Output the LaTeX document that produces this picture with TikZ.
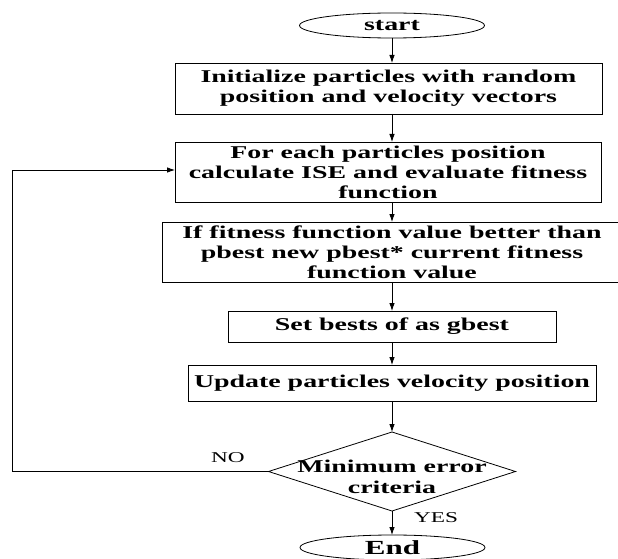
\documentclass[tikz,border=0pt]{standalone}
\usepackage{fontspec}
\setmainfont{Liberation Serif}
\newfontfamily\widefont[FakeStretch=1.55]{Liberation Serif}
\newfontfamily\lblfont[FakeStretch=1.55]{Liberation Serif}
\usetikzlibrary{shapes.geometric,arrows.meta}
\tikzset{
  x=1pt, y=-1pt,
  box/.style={draw, rectangle, line width=0.8pt, inner sep=0pt, outer sep=0pt, align=center,
    font=\widefont\bfseries\fontsize{18}{20}\selectfont},
  term/.style={draw, ellipse, line width=0.8pt, inner sep=0pt, outer sep=0pt,
    minimum width=185pt, minimum height=25pt, font=\widefont\bfseries\fontsize{18}{20}\selectfont},
  dia/.style={draw, diamond, line width=0.8pt, inner sep=0pt, outer sep=0pt,
    minimum width=247pt, minimum height=79pt},
  dtext/.style={align=center, inner sep=0pt, font=\widefont\bfseries\fontsize{18}{21}\selectfont},
  lbl/.style={inner sep=0pt, font=\lblfont\fontsize{15}{17}\selectfont},
  arr/.style={line width=0.8pt, -{Latex[length=8pt,width=5.5pt]}},
}
\begin{document}
\begin{tikzpicture}
\clip (0,0) rectangle (618,559);
\node[term] (start) at (392,25.5) {start};
\node[box, minimum width=427pt, minimum height=51pt] (b1) at (388.5,88.5)
  {Initialize particles with random\\position and velocity vectors};
\node[box, minimum width=426pt, minimum height=60pt] (b2) at (388,172)
  {For each particles position\\calculate ISE and evaluate fitness\\function};
\node[box, minimum width=460pt, minimum height=60pt] (b3) at (392,252)
  {If fitness function value better than\\pbest new pbest* current fitness\\function value};
\node[box, minimum width=328pt, minimum height=31pt] (b4) at (392,326.5)
  {Set bests of as gbest};
\node[box, minimum width=408pt, minimum height=36pt] (b5) at (392,383)
  {Update particles velocity position};
\node[dia] (d) at (392,471.5) {};
\node[dtext] (dt) at (392,477) {Minimum error\\criteria};
\node[term, font=\lblfont\bfseries\fontsize{20}{22}\selectfont] (end) at (392.5,547.5) {End};
\node[lbl] (no) at (228,458) {NO};
\node[lbl] (yes) at (436,518) {YES};
\coordinate (lp) at (12,471.5);

\draw[arr] (start.south) -- (start.south |- b1.north);
\draw[arr] (b1.south -| start) -- (b2.north -| start);
\draw[arr] (b2.south -| start) -- (b3.north -| start);
\draw[arr] (b3.south -| start) -- (b4.north -| start);
\draw[arr] (b4.south -| start) -- (b5.north -| start);
\draw[arr] (b5.south -| start) -- (d.north);
\draw[arr] (d.south) -- (d.south |- end.north);
\draw[arr] (d.west) -- (lp) |- ([yshift=2pt]b2.west);
\end{tikzpicture}
\end{document}
